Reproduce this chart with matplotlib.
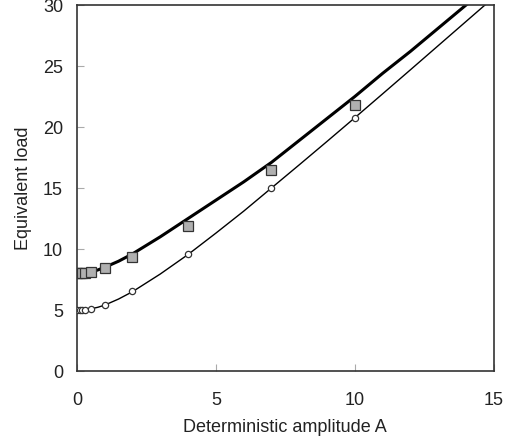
import matplotlib.pyplot as plt

plt.rcParams['font.family'] = ['Liberation Sans', 'DejaVu Sans']

# measured points
amp_pts = [0, 0.1, 0.2, 0.3, 0.5, 1, 2, 4, 7, 10]
load_sq = [8.0, 8.0, 8.0, 8.02, 8.09, 8.42, 9.37, 11.85, 16.5, 21.8]
load_circ = [5.0, 5.0, 5.0, 5.02, 5.08, 5.41, 6.55, 9.55, 15.0, 20.76]

# fitted curves
amp_curve = [0, 0.25, 0.5, 0.75, 1, 1.5, 2, 3, 4, 5, 6, 7, 8, 9, 10, 11, 12, 13, 14, 15]
load_thick = [8.0, 8.03, 8.12, 8.28, 8.5, 9.0, 9.6, 11.0, 12.5, 14.0, 15.5, 17.1,
              18.9, 20.7, 22.5, 24.4, 26.2, 28.1, 30.0, 31.9]
load_thin = [5.0, 5.03, 5.1, 5.22, 5.4, 5.9, 6.5, 7.95, 9.55, 11.3, 13.1, 15.0,
             16.9, 18.82, 20.76, 22.72, 24.69, 26.67, 28.65, 30.63]

fig = plt.figure(figsize=(5.16, 4.44), dpi=100)
ax = fig.add_axes([0.149, 0.1644, 0.808, 0.8243])

ax.plot(amp_curve, load_thick, color='black', linewidth=2.2, zorder=2)
ax.plot(amp_curve, load_thin, color='black', linewidth=1.0, zorder=2)
ax.plot(amp_pts, load_sq, 's', markersize=7, markerfacecolor='#b0b0b0',
        markeredgecolor='#333333', markeredgewidth=0.9, zorder=3)
ax.plot(amp_pts, load_circ, 'o', markersize=4.5, markerfacecolor='white',
        markeredgecolor='#333333', markeredgewidth=0.9, zorder=3)

ax.set_xlim(0, 15)
ax.set_ylim(0, 30)
ax.set_xticks([0, 5, 10, 15])
ax.set_yticks([0, 5, 10, 15, 20, 25, 30])

ax.tick_params(direction='in', length=5, color='#aaaaaa', labelsize=13,
               labelcolor='#222222')
ax.tick_params(axis='x', pad=15)
ax.tick_params(axis='y', pad=10)

for s in ax.spines.values():
    s.set_color('#333333')
    s.set_linewidth(1.2)

ax.set_xlabel('Deterministic amplitude A', fontsize=13, color='#222222', labelpad=7)
ax.set_ylabel('Equivalent load', fontsize=13, color='#222222', labelpad=8)

fig.savefig('out.png', dpi=100)
